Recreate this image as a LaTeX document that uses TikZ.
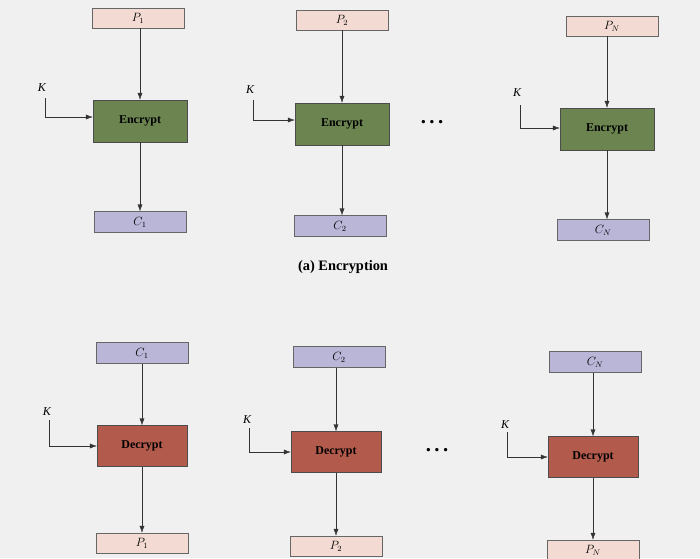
\documentclass[tikz,border=0pt]{standalone}
\usepackage{fontspec}
\setmainfont{Liberation Serif}
\usetikzlibrary{arrows.meta}
\definecolor{encg}{HTML}{6B8450}
\definecolor{decr}{HTML}{B25A4C}
\definecolor{lav}{HTML}{B9B6D8}
\definecolor{pnk}{HTML}{F3DAD2}
\begin{document}
\begin{tikzpicture}[x=1pt,y=-1pt,
  pbox/.style={draw=black!60,fill=pnk,minimum width=92pt,minimum height=20pt,inner sep=0pt,font=\itshape\large},
  cbox/.style={draw=black!60,fill=lav,minimum width=92pt,minimum height=21pt,inner sep=0pt,font=\itshape\large},
  ebox/.style={draw=black!70,fill=encg,minimum width=94pt,minimum height=42pt,inner sep=0pt,font=\bfseries\large},
  dbox/.style={draw=black!70,fill=decr,minimum width=90pt,minimum height=41pt,inner sep=0pt,font=\bfseries\large},
  arr/.style={-{Latex[length=7pt,width=5pt]},black!80},
  klab/.style={font=\itshape\large,inner sep=1pt},
  dotsty/.style={font=\huge\bfseries,inner sep=0pt}]
\fill[gray!12] (0,0) rectangle (700,558);
\useasboundingbox (0,0) rectangle (700,558);
% top row
\foreach \i/\px/\py/\ex/\ey/\cx/\cy/\kx/\ky/\lt/\lb/\plab/\clab in
 {1/138/18/140/121/140/222/42/88/98/117/{P_1}/{C_1},
  2/342/20/342/124/340/226/250/90/100/120/{P_2}/{C_2},
  3/612/26/607/129/603/230/517/93/105/128/{P_N}/{C_N}}{
  \node[pbox] (p\i) at (\px,\py) {$\plab$};
  \node[ebox] (e\i) at (\ex,\ey) {Encrypt};
  \node[cbox] (c\i) at (\cx,\cy) {$\clab$};
  \node[klab] (k\i) at (\kx,\ky) {K};
  \coordinate (kc\i) at (\kx+3,\lb);
  \draw[arr] (p\i.south -| e\i) -- (e\i.north);
  \draw[arr] (e\i.south) -- (c\i.north -| e\i);
  \draw[arr] (\kx+3,\lt) -- (kc\i) -- (e\i.west |- kc\i);
}
\node[dotsty] (dotsA) at (432,122) {.\,.\,.};
\node[font=\Large\bfseries] (capA) at (343,267) {(a) Encryption};
% bottom row
\foreach \i/\px/\py/\ex/\ey/\cx/\cy/\kx/\ky/\lt/\lb/\plab/\clab in
 {4/142/353/142/446/142/543/47/412/420/446/{C_1}/{P_1},
  5/339/357/336/452/336/546/247/420/428/452/{C_2}/{P_2},
  6/595/362/593/457/593/550/505/425/432/457/{C_N}/{P_N}}{
  \node[cbox] (p\i) at (\px,\py) {$\plab$};
  \node[dbox] (e\i) at (\ex,\ey) {Decrypt};
  \node[pbox] (c\i) at (\cx,\cy) {$\clab$};
  \node[klab] (k\i) at (\kx,\ky) {K};
  \coordinate (kc\i) at (\kx+2,\lb);
  \draw[arr] (p\i.south -| e\i) -- (e\i.north);
  \draw[arr] (e\i.south) -- (c\i.north -| e\i);
  \draw[arr] (\kx+2,\lt) -- (kc\i) -- (e\i.west |- kc\i);
}
\node[dotsty] (dotsB) at (437,450) {.\,.\,.};
\end{tikzpicture}
\end{document}
